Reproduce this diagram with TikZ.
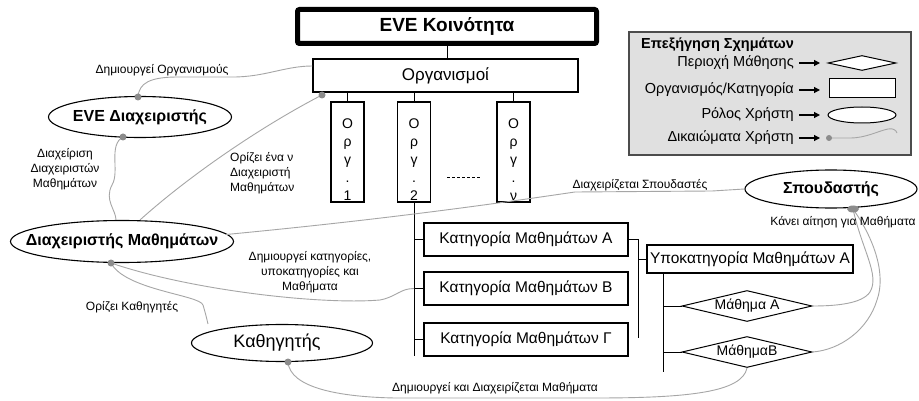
\documentclass[tikz,border=0pt]{standalone}
\usepackage{fontspec}
\setmainfont{Liberation Sans}
\usetikzlibrary{shapes.geometric,arrows.meta}
\begin{document}
\begin{tikzpicture}[x=1pt,y=-1pt,
  conn/.style={draw=black!35,line width=0.9pt},
  tree/.style={draw=black,line width=1pt},
  box/.style={draw=black,line width=1.2pt,rectangle,inner sep=0pt,fill=white},
  role/.style={draw=black,line width=1.1pt,ellipse,inner sep=0pt,fill=white},
  area/.style={draw=black,line width=1pt,diamond,inner sep=0pt,fill=white},
  rdot/.style={circle,fill=black!45,inner sep=0pt,minimum size=7pt},
  lbl/.style={font=\fontsize{12}{15}\selectfont,inner sep=0pt,align=center},
  mid/.style={font=\fontsize{15.5}{18}\selectfont},
  rolet/.style={font=\fontsize{16}{18}\selectfont\bfseries},
  leg/.style={font=\fontsize{14.5}{16}\selectfont,inner sep=0pt,anchor=east},
]
\useasboundingbox (0,0) rectangle (919,401);
\fill[white] (0,0) rectangle (919,401);

% top boxes
\node[box,line width=5pt,rounded corners=2pt,minimum width=299pt,minimum height=34pt,font=\fontsize{19}{21}\selectfont\bfseries] (eve) at (447,26.5) {EVE Κοινότητα};
\node[box,minimum width=265pt,minimum height=33pt,font=\fontsize{17}{20}\selectfont] (orgs) at (445.5,75.5) {Οργανισμοί};
\draw[tree] (eve.south) -- (eve.south |- orgs.north);

% organisation columns
\node[box,minimum width=33pt,minimum height=100pt] (org1) at (347.5,152) {};
\node[box,minimum width=33pt,minimum height=100pt] (org2) at (414,152) {};
\node[box,minimum width=33pt,minimum height=100pt] (orgn) at (513.5,152) {};
\node[align=center,inner sep=0pt,font=\fontsize{14}{18}\selectfont] (t1) at (347.5,160) {Ο\\ρ\\γ\\.\\1};
\node[align=center,inner sep=0pt,font=\fontsize{14}{18}\selectfont] (t2) at (414,160) {Ο\\ρ\\γ\\.\\2};
\node[align=center,inner sep=0pt,font=\fontsize{14}{18}\selectfont] (tn) at (513.5,160) {Ο\\ρ\\γ\\.\\ν};
\foreach \o in {org1,org2,orgn} \draw[tree] (\o.north) -- (\o.north |- orgs.south);
\coordinate (dl) at (447,177);
\coordinate (dr) at (481,177);
\draw[black,line width=0.8pt,dash pattern=on 3pt off 2pt] (dl) -- (dr);

% categories
\node[box,minimum width=204pt,minimum height=33pt,mid] (catA) at (526,239.5) {Κατηγορία Μαθημάτων Α};
\node[box,minimum width=204pt,minimum height=33pt,mid] (catB) at (526,288.5) {Κατηγορία Μαθημάτων Β};
\node[box,minimum width=204pt,minimum height=33pt,mid] (catG) at (526,339.5) {Κατηγορία Μαθημάτων Γ};
\coordinate (tree1end) at (414,356);
\draw[tree] (org2.south) -- (tree1end);
\foreach \c in {catA,catB,catG} \draw[tree] (\c.west -| org2.south) -- (\c.west);

\node[box,minimum width=206pt,minimum height=28pt,mid] (sub) at (750,259) {Υποκατηγορία Μαθημάτων Α};
\coordinate (tree2) at (638,239.5);
\coordinate (tree2end) at (638,338);
\draw[tree] (catA.east) -- (tree2) -- (tree2end);
\draw[tree] (sub.west -| tree2) -- (sub.west);

\node[area,minimum width=130pt,minimum height=31pt,label={[font=\fontsize{14}{16}\selectfont]center:Μάθημα Α}] (lesA) at (747,306) {};
\node[area,minimum width=130pt,minimum height=31pt,label={[font=\fontsize{14}{16}\selectfont]center:ΜάθημαΒ}] (lesB) at (747,352) {};
\coordinate (tree3) at (663,273);
\coordinate (tree3end) at (663,372);
\draw[tree] (tree3) -- (tree3end);
\draw[tree] (lesA.west -| tree3) -- (lesA.west);
\draw[tree] (lesB.west -| tree3) -- (lesB.west);

% roles
\node[role,minimum width=183pt,minimum height=41pt,label={[rolet]center:EVE Διαχειριστής}] (eveadmin) at (140,117) {};
\node[role,minimum width=223pt,minimum height=42pt,label={[rolet]center:Διαχειριστής Μαθημάτων}] (cadmin) at (122,241.5) {};
\node[role,minimum width=172pt,minimum height=38pt,label={[rolet]center:Σπουδαστής}] (student) at (831,189) {};
\node[role,minimum width=181pt,minimum height=37pt,label={[font=\fontsize{18}{20}\selectfont,xshift=-5pt]center:Καθηγητής}] (teacher) at (282,343) {};

% rights connectors
\coordinate (d1) at (138,97);
\coordinate (d2) at (123,137);
\coordinate (d3) at (322,95);
\coordinate (d4) at (111,263);
\coordinate (d5) at (288,362);
\coordinate (d6) at (853,209);

\draw[conn] (d1) .. controls (139,83) and (150,77) .. (178,77) -- (233,77) .. controls (265,77) and (285,66) .. ([yshift=9.5pt]orgs.west);
\draw[conn] (d2) .. controls (108,145) and (120,172) .. (112,185) .. controls (104,200) and (116,210) .. ([xshift=-6pt]cadmin.north);
\draw[conn] ([xshift=18pt]cadmin.north) .. controls (190,175) and (262,126) .. (d3);
\draw[conn] ([xshift=-8pt,yshift=7pt]cadmin.east) .. controls (400,218) and (520,200) .. (575,192) -- (712,191) -- (student.west);
\draw[conn] (d4) .. controls (125,290) and (200,295) .. (203,305) .. controls (206,315) and (207,320) .. ([xshift=-74pt]teacher.north);
\draw[conn] (d4) .. controls (190,290) and (320,305) .. (380,300) .. controls (396,297) and (400,288.5) .. (catB.west -| org2.south);
\draw[conn] (d5) .. controls (290,388) and (340,397) .. (395,398) -- (595,398) .. controls (690,398) and (742,392) .. (lesB.south);
\draw[conn] (d6) .. controls (862,250) and (880,275) .. (870,292) .. controls (862,304) and (835,306) .. (lesA.east);
\draw[conn] (d6) .. controls (875,240) and (886,275) .. (877,300) .. controls (868,330) and (840,350) .. (lesB.east);

\foreach \d in {d1,d2,d3,d4,d5} \node[rdot] at (\d) {};
\node[rdot,minimum width=12pt,minimum height=7pt,ellipse] at (d6) {};

% labels
\node[lbl] (l1) at (162,70) {Δημιουργεί Οργανισμούς};
\node[lbl] (l2) at (65,169) {Διαχείριση\\Διαχειριστών\\Μαθημάτων};
\node[lbl,align=left,anchor=west] (l3) at (230,173) {Ορίζει ένα ν\\Διαχειριστή\\Μαθημάτων};
\node[lbl] (l4) at (640,185) {Διαχειρίζεται Σπουδαστές};
\node[lbl] (l5) at (843,222) {Κάνει αίτηση για Μαθήματα};
\node[lbl] (l6) at (310,272) {Δημιουργεί κατηγορίες,\\υποκατηγορίες και\\Μαθήματα};
\node[lbl] (l7) at (132,307) {Ορίζει Καθηγητές};
\node[lbl] (l8) at (495,388) {Δημιουργεί και Διαχειρίζεται Μαθήματα};

% legend
\node[draw=black!70,line width=1.2pt,fill=black!12,minimum width=282pt,minimum height=123pt,inner sep=0pt] (legend) at (770,93.5) {};
\node[font=\fontsize{14.5}{16}\selectfont\bfseries,anchor=west,inner sep=0pt] (legt) at (641,45) {Επεξήγηση Σχημάτων};
\node[leg] (lg1) at (794,63) {Περιοχή Μάθησης};
\node[leg] (lg2) at (794,90) {Οργανισμός/Κατηγορία};
\node[leg] (lg3) at (794,115) {Ρόλος Χρήστη};
\node[leg] (lg4) at (794,138) {Δικαιώματα Χρήστη};
\foreach \y in {63,90,115,138} \draw[line width=1.2pt,-{Triangle[length=6pt,width=6pt]}] (799,\y) -- (820,\y);
\node[area,minimum width=68pt,minimum height=15pt] (ls1) at (862,63) {};
\node[box,line width=1pt,minimum width=66pt,minimum height=19pt] (ls2) at (862,88.5) {};
\node[role,line width=1pt,minimum width=68pt,minimum height=16pt] (ls3) at (862,115) {};
\coordinate (ld) at (829,138);
\draw[conn] (ld) -- (850,138) .. controls (866,138) and (878,131) .. (888,129) .. controls (893,128) and (896,130) .. (897,133);
\node[rdot,minimum size=6pt] at (ld) {};
\end{tikzpicture}
\end{document}
